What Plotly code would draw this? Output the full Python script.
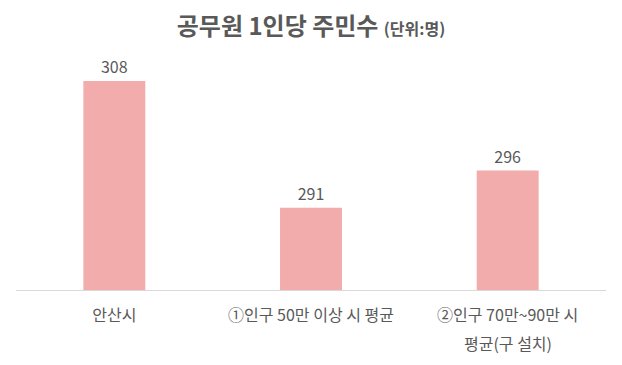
import plotly.graph_objects as go

categories = ["안산시", "①인구 50만 이상 시 평균", "②인구 70만~90만 시"]
category_second_lines = ["", "", "평균(구 설치)"]
values = [308, 291, 296]

font_family = "Noto Sans CJK KR, Noto Sans, sans-serif"
text_color = "#595959"

fig = go.Figure(go.Bar(
    x=categories,
    y=values,
    marker=dict(color="#F2ACAB", line=dict(width=0)),
    width=0.315,
    text=[str(v) for v in values],
    textposition="outside",
    textfont=dict(size=16, color=text_color, family=font_family),
    cliponaxis=False,
))

# second lines of category labels (wider line spacing than plotly's default)
for cat, line2 in zip(categories, category_second_lines):
    if line2:
        fig.add_annotation(
            x=cat, xref="x", y=0, yref="paper",
            text=line2, showarrow=False, yanchor="middle", yshift=-53,
            font=dict(size=16, color=text_color, family=font_family),
        )

fig.update_layout(
    width=622, height=365,
    margin=dict(l=16, r=16, t=66, b=75),
    paper_bgcolor="white", plot_bgcolor="white",
    title=dict(
        text="<b>공무원 1인당 주민수</b> <span style='font-size:16px'><b>(단위:명)</b></span>",
        x=0.5, xanchor="center", y=0.927, yanchor="middle",
        font=dict(size=24, color=text_color, family=font_family),
    ),
    showlegend=False,
    xaxis=dict(
        showline=True, linecolor="#D9D9D9", linewidth=1,
        showgrid=False, ticks="",
        tickfont=dict(size=16, color=text_color, family=font_family),
        ticklabelstandoff=11,
    ),
    yaxis=dict(range=[280, 310], visible=False, showgrid=False, zeroline=False),
)

fig.write_html("out.html")
